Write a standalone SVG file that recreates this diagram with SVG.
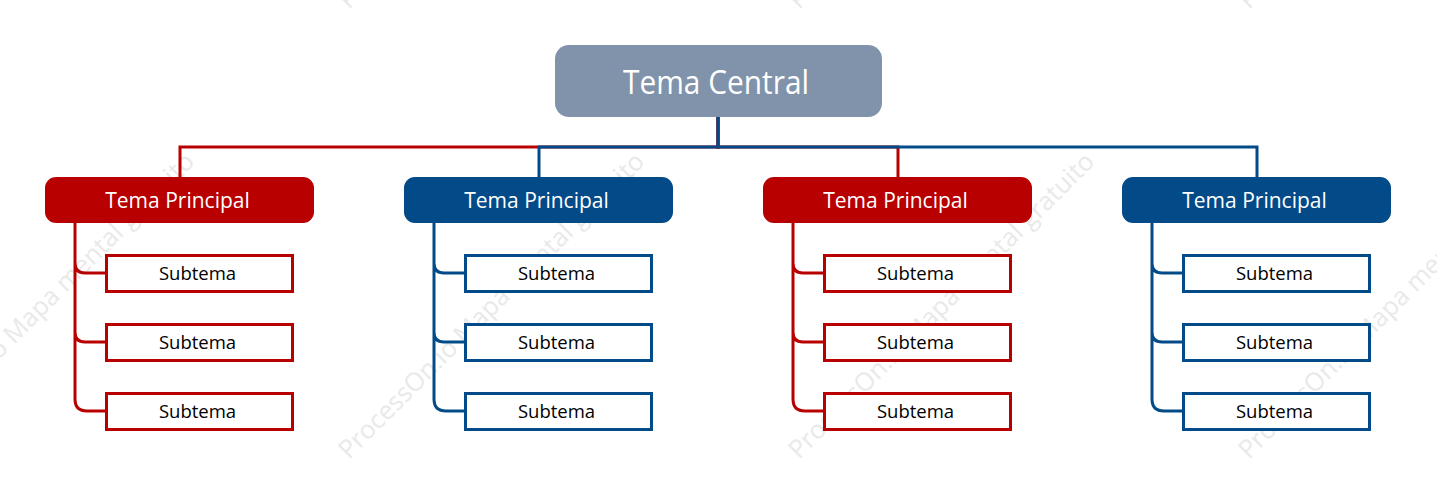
<svg xmlns="http://www.w3.org/2000/svg" width="1437" height="489" viewBox="0 0 1437 489">
<style>
text{font-family:"Open Sans","Noto Sans","Liberation Sans",sans-serif;text-anchor:middle}
.wm{fill:#e9e9e9;font-size:25.500px;text-anchor:start}
.c{fill:none;stroke-width:3}
.r{stroke:#b80000}
.b{stroke:#034a88}
.ct{fill:#8093aa}
.mr{fill:#b80000}
.mb{fill:#034a88}
.s{fill:#fff;stroke-width:3}
.t1{fill:#fff;font-size:32px}
.t2{fill:#fff;font-size:21px}
.t3{fill:#000;font-size:18.500px}
</style>
<rect width="1437" height="489" fill="#fff"/>
<g id="watermark">
<text class="wm" transform="translate(-101 460) rotate(-45)">ProcessOn.io Mapa mental gratuito</text>
<text class="wm" transform="translate(349 460) rotate(-45)">ProcessOn.io Mapa mental gratuito</text>
<text class="wm" transform="translate(799 460) rotate(-45)">ProcessOn.io Mapa mental gratuito</text>
<text class="wm" transform="translate(1249 460) rotate(-45)">ProcessOn.io Mapa mental gratuito</text>
<text class="wm" transform="translate(349 10) rotate(-45)">ProcessOn.io Mapa mental gratuito</text>
<text class="wm" transform="translate(799 10) rotate(-45)">ProcessOn.io Mapa mental gratuito</text>
<text class="wm" transform="translate(1249 10) rotate(-45)">ProcessOn.io Mapa mental gratuito</text>
</g>
<g id="connectors">
<path class="c r" d="M718 117V147H180V177"/>
<path class="c b" d="M718 117V147H539V177"/>
<path class="c r" d="M718 117V147H898V177"/>
<path class="c b" d="M718 117V147H1257V177"/>
<path class="c r" d="M75 223V263Q75 273 85 273H106M75 223V332Q75 342 85 342H106M75 223V399Q75 411 87 411H106"/>
<path class="c b" d="M434 223V263Q434 273 444 273H465M434 223V332Q434 342 444 342H465M434 223V399Q434 411 446 411H465"/>
<path class="c r" d="M793 223V263Q793 273 803 273H824M793 223V332Q793 342 803 342H824M793 223V399Q793 411 805 411H824"/>
<path class="c b" d="M1152 223V263Q1152 273 1162 273H1183M1152 223V332Q1152 342 1162 342H1183M1152 223V399Q1152 411 1164 411H1183"/>
</g>
<g id="central"><rect class="ct" x="555" y="45" width="327" height="72" rx="14"/><text class="t1" x="716" y="94" textLength="186" lengthAdjust="spacingAndGlyphs">Tema Central</text></g>
<g id="main1"><rect class="mr" x="45" y="177" width="269" height="46" rx="11"/><text class="t2" x="177.500" y="208">Tema Principal</text></g>
<g id="main2"><rect class="mb" x="404" y="177" width="269" height="46" rx="11"/><text class="t2" x="536.500" y="208">Tema Principal</text></g>
<g id="main3"><rect class="mr" x="763" y="177" width="269" height="46" rx="11"/><text class="t2" x="895.500" y="208">Tema Principal</text></g>
<g id="main4"><rect class="mb" x="1122" y="177" width="269" height="46" rx="11"/><text class="t2" x="1254.500" y="208">Tema Principal</text></g>
<g id="sub1a"><rect class="s r" x="106.500" y="255.500" width="186" height="36"/><text class="t3" x="197.500" y="280">Subtema</text></g>
<g id="sub1b"><rect class="s r" x="106.500" y="324.500" width="186" height="36"/><text class="t3" x="197.500" y="349">Subtema</text></g>
<g id="sub1c"><rect class="s r" x="106.500" y="393.500" width="186" height="36"/><text class="t3" x="197.500" y="418">Subtema</text></g>
<g id="sub2a"><rect class="s b" x="465.500" y="255.500" width="186" height="36"/><text class="t3" x="556.500" y="280">Subtema</text></g>
<g id="sub2b"><rect class="s b" x="465.500" y="324.500" width="186" height="36"/><text class="t3" x="556.500" y="349">Subtema</text></g>
<g id="sub2c"><rect class="s b" x="465.500" y="393.500" width="186" height="36"/><text class="t3" x="556.500" y="418">Subtema</text></g>
<g id="sub3a"><rect class="s r" x="824.500" y="255.500" width="186" height="36"/><text class="t3" x="915.500" y="280">Subtema</text></g>
<g id="sub3b"><rect class="s r" x="824.500" y="324.500" width="186" height="36"/><text class="t3" x="915.500" y="349">Subtema</text></g>
<g id="sub3c"><rect class="s r" x="824.500" y="393.500" width="186" height="36"/><text class="t3" x="915.500" y="418">Subtema</text></g>
<g id="sub4a"><rect class="s b" x="1183.500" y="255.500" width="186" height="36"/><text class="t3" x="1274.500" y="280">Subtema</text></g>
<g id="sub4b"><rect class="s b" x="1183.500" y="324.500" width="186" height="36"/><text class="t3" x="1274.500" y="349">Subtema</text></g>
<g id="sub4c"><rect class="s b" x="1183.500" y="393.500" width="186" height="36"/><text class="t3" x="1274.500" y="418">Subtema</text></g>
</svg>
